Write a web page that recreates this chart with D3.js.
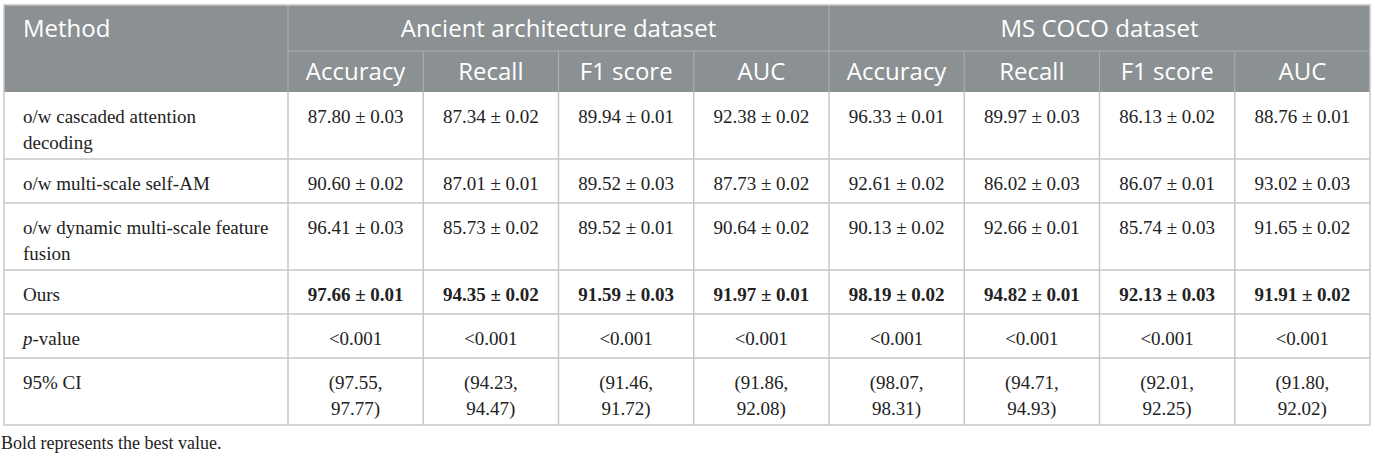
<!DOCTYPE html>
<html>
<head>
<meta charset="utf-8">
<script src="https://cdn.jsdelivr.net/npm/d3@7/dist/d3.min.js"></script>
<style>
  html, body { margin: 0; padding: 0; background: #ffffff; }
  svg { display: block; }
</style>
</head>
<body>
<svg id="chart" width="1375" height="458"></svg>
<script>
// ---------- data ----------
const datasets = ["Ancient architecture dataset", "MS COCO dataset"];
const metrics = ["Accuracy", "Recall", "F1 score", "AUC"];
const methods = ["o/w cascaded attention\ndecoding", "o/w multi-scale self-AM", "o/w dynamic multi-scale feature\nfusion", "Ours"];
const ancientMean = [
  [87.80, 87.34, 89.94, 92.38],
  [90.60, 87.01, 89.52, 87.73],
  [96.41, 85.73, 89.52, 90.64],
  [97.66, 94.35, 91.59, 91.97]
];
const ancientSd = [
  [0.03, 0.02, 0.01, 0.02],
  [0.02, 0.01, 0.03, 0.02],
  [0.03, 0.02, 0.01, 0.02],
  [0.01, 0.02, 0.03, 0.01]
];
const cocoMean = [
  [96.33, 89.97, 86.13, 88.76],
  [92.61, 86.02, 86.07, 93.02],
  [90.13, 92.66, 85.74, 91.65],
  [98.19, 94.82, 92.13, 91.91]
];
const cocoSd = [
  [0.01, 0.03, 0.02, 0.01],
  [0.02, 0.03, 0.01, 0.03],
  [0.02, 0.01, 0.03, 0.02],
  [0.02, 0.01, 0.03, 0.02]
];
const pValues = ["<0.001", "<0.001", "<0.001", "<0.001", "<0.001", "<0.001", "<0.001", "<0.001"];
const ciLow  = [97.55, 94.23, 91.46, 91.86, 98.07, 94.71, 92.01, 91.80];
const ciHigh = [97.77, 94.47, 91.72, 92.08, 98.31, 94.93, 92.25, 92.02];
const bestRow = "Ours";
const footnote = "Bold represents the best value.";

// ---------- layout ----------
const svg = d3.select("#chart");
const tableLeft = 4, tableRight = 1370, methodRight = 288;
const headTop = 5, headMid = 51, headBottom = 92;
const lineH = 25.5;
const headerFill = "#8b9093";
const gridColor = "#c6c6c6";
const headerLine = "#a9adaf";
const serif = "'Liberation Serif', 'Times New Roman', serif";
const sans = "'Open Sans', 'Noto Sans', sans-serif";

const colKeys = d3.range(datasets.length * metrics.length);
const x = d3.scaleBand().domain(colKeys).range([methodRight, tableRight]);
const xGroup = d3.scaleBand().domain(datasets).range([methodRight, tableRight]);

// Build body rows
const fmt = d3.format(".2f");
const rows = [];
methods.forEach((m, i) => {
  const cells = [];
  metrics.forEach((_, j) => cells.push([`${fmt(ancientMean[i][j])} \u00b1 ${fmt(ancientSd[i][j])}`]));
  metrics.forEach((_, j) => cells.push([`${fmt(cocoMean[i][j])} \u00b1 ${fmt(cocoSd[i][j])}`]));
  rows.push({ label: m.split("\n"), cells, bold: m === bestRow, italicP: false });
});
rows.push({ label: ["p-value"], cells: pValues.map(v => [v]), bold: false, italicP: true });
rows.push({ label: ["95% CI"], cells: ciLow.map((lo, k) => [`(${fmt(lo)},`, `${fmt(ciHigh[k])})`]), bold: false, italicP: false });

// row heights from number of lines
let yCursor = headBottom;
rows.forEach(r => {
  const n = Math.max(r.label.length, d3.max(r.cells, c => c.length));
  r.lines = n;
  r.top = yCursor;
  r.h = n === 1 ? 44 : 67;
  yCursor += r.h;
});
const tableBottom = yCursor;

// ---------- header ----------
svg.append("rect").attr("x", tableLeft).attr("y", headTop)
  .attr("width", tableRight - tableLeft).attr("height", headBottom - headTop)
  .attr("fill", headerFill);

svg.append("line").attr("x1", methodRight).attr("x2", tableRight)
  .attr("y1", headMid).attr("y2", headMid).attr("stroke", headerLine).attr("stroke-width", 1.2);
svg.selectAll(".hgdiv").data(datasets).enter().append("line")
  .attr("x1", d => xGroup(d)).attr("x2", d => xGroup(d))
  .attr("y1", headTop).attr("y2", headBottom)
  .attr("stroke", headerLine).attr("stroke-width", 1.2);
svg.selectAll(".hcdiv").data(colKeys.filter(k => k % metrics.length !== 0)).enter().append("line")
  .attr("x1", d => x(d)).attr("x2", d => x(d))
  .attr("y1", headMid).attr("y2", headBottom)
  .attr("stroke", headerLine).attr("stroke-width", 1.2);

svg.append("text").attr("x", 23).attr("y", (headTop + headMid) / 2).attr("dy", "0.36em")
  .attr("fill", "#ffffff").attr("font-family", sans).attr("font-size", 24).text("Method");

svg.selectAll(".dsText").data(datasets).enter().append("text")
  .attr("x", d => xGroup(d) + xGroup.bandwidth() / 2)
  .attr("y", (headTop + headMid) / 2).attr("dy", "0.36em")
  .attr("text-anchor", "middle").attr("fill", "#ffffff")
  .attr("font-family", sans).attr("font-size", 24).text(d => d);

svg.selectAll(".mText").data(colKeys).enter().append("text")
  .attr("x", d => x(d) + x.bandwidth() / 2)
  .attr("y", (headMid + headBottom) / 2).attr("dy", "0.36em")
  .attr("text-anchor", "middle").attr("fill", "#ffffff")
  .attr("font-family", sans).attr("font-size", 24).text(d => metrics[d % metrics.length]);

// ---------- body ----------
const rowG = svg.selectAll(".row").data(rows).enter().append("g")
  .attr("transform", d => `translate(0,${d.top})`);

rowG.each(function(r) {
  const g = d3.select(this);
  r.label.forEach((ln, li) => {
    const t = g.append("text").attr("x", 23).attr("y", 24.5 + li * lineH).attr("dy", "0.35em")
      .attr("font-family", serif).attr("font-size", 19).attr("fill", "#222222");
    if (r.italicP) {
      t.append("tspan").attr("font-style", "italic").text("p");
      t.append("tspan").text(ln.slice(1));
    } else {
      t.text(ln);
    }
  });
  r.cells.forEach((cell, k) => {
    cell.forEach((ln, li) => {
      g.append("text").attr("x", x(k) + x.bandwidth() / 2).attr("y", 24.5 + li * lineH).attr("dy", "0.35em")
        .attr("text-anchor", "middle")
        .attr("font-family", serif).attr("font-size", 19)
        .attr("font-weight", r.bold ? "bold" : "normal")
        .attr("fill", "#222222").text(ln);
    });
  });
});

svg.selectAll(".rsep").data(rows.slice(1)).enter().append("line")
  .attr("x1", tableLeft).attr("x2", tableRight)
  .attr("y1", d => d.top).attr("y2", d => d.top)
  .attr("stroke", gridColor).attr("stroke-width", 1.5);

const vBounds = [methodRight].concat(colKeys.slice(1).map(k => x(k)));
svg.selectAll(".vsep").data(vBounds).enter().append("line")
  .attr("x1", d => d).attr("x2", d => d)
  .attr("y1", headBottom).attr("y2", tableBottom)
  .attr("stroke", gridColor).attr("stroke-width", 1.5);

svg.append("rect").attr("x", tableLeft).attr("y", headTop)
  .attr("width", tableRight - tableLeft).attr("height", tableBottom - headTop)
  .attr("fill", "none").attr("stroke", gridColor).attr("stroke-width", 1.5);

// footnote
svg.append("text").attr("x", 1).attr("y", 443).attr("dy", "0.35em")
  .attr("font-family", serif).attr("font-size", 18).attr("fill", "#222222").text(footnote);
</script>
</body>
</html>
